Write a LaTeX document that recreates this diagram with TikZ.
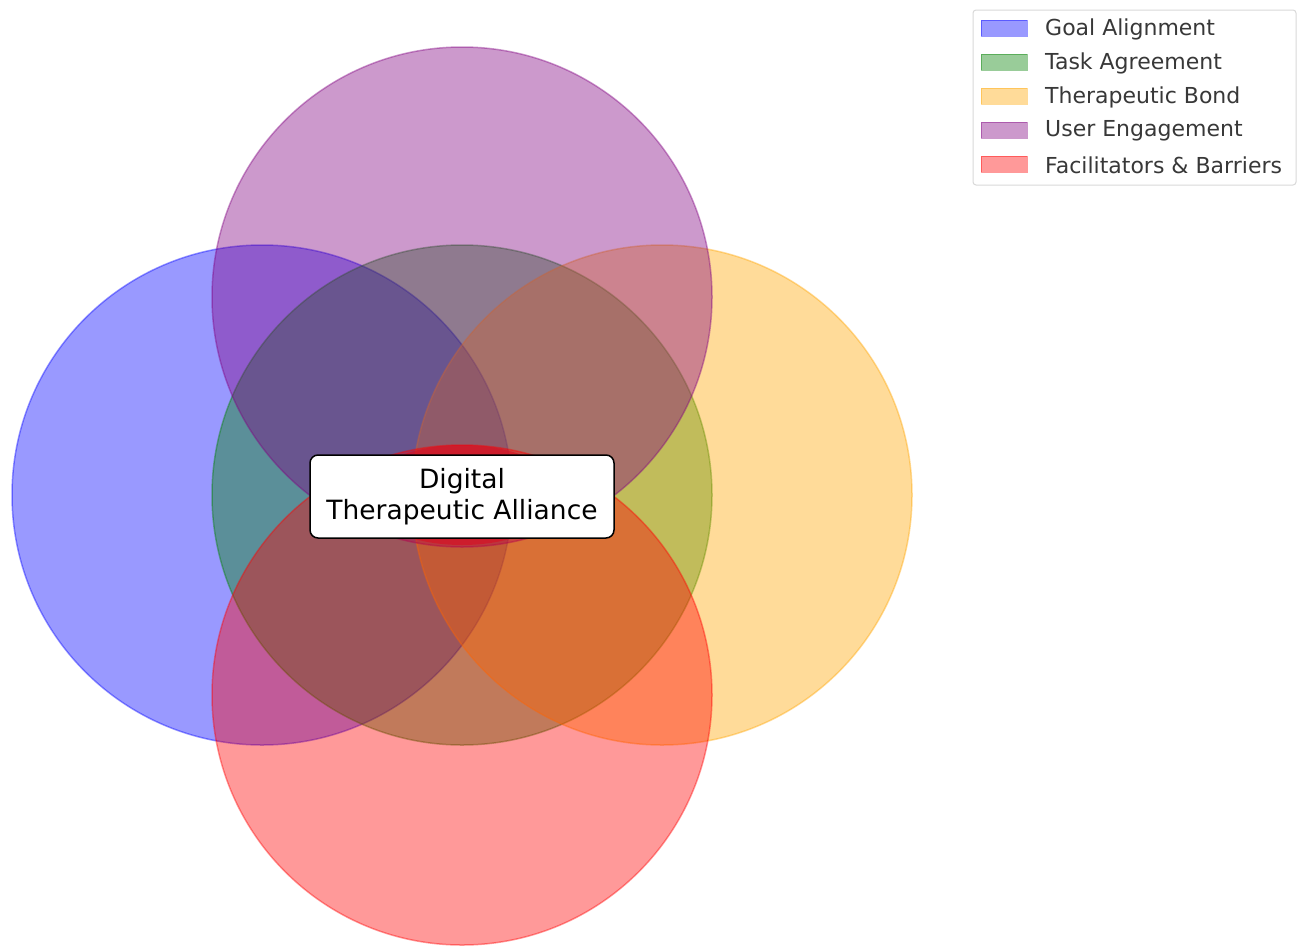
\documentclass[tikz,border=0pt]{standalone}
\usepackage{fontspec}
\setmainfont{DejaVu Sans}
\usetikzlibrary{shapes.geometric}
\definecolor{mblue}{RGB}{0,0,255}
\definecolor{mgreen}{RGB}{0,128,0}
\definecolor{morange}{RGB}{255,165,0}
\definecolor{mpurple}{RGB}{128,0,128}
\definecolor{mred}{RGB}{255,0,0}
\definecolor{mcore}{RGB}{220,10,30}
\begin{document}
\begin{tikzpicture}[x=1pt,y=-1pt,
  venn/.style={circle,minimum size=500pt,inner sep=0pt,line width=1.5pt,fill=#1,draw=#1,opacity=0.4},
  patch/.style={rectangle,minimum width=46pt,minimum height=16pt,inner sep=0pt,line width=1pt,fill=#1,draw=#1,opacity=0.4},
  legtext/.style={anchor=west,inner sep=0pt,font=\fontsize{22}{26}\selectfont,text=black!78}]
\useasboundingbox (0,0) rectangle (1300,945);
\fill[white] (0,0) rectangle (1300,945);
\node[venn=mblue] (goal) at (262,495) {};
\node[venn=mgreen] (task) at (462,495) {};
\node[venn=morange] (bond) at (662,495) {};
\node[venn=mpurple] (user) at (462,297) {};
\node[venn=mred] (fac) at (462,695) {};
\node[ellipse,minimum width=200pt,minimum height=100pt,inner sep=0pt,fill=mcore,opacity=0.55] (core) at (462,495) {};
\node[draw=black,line width=1.5pt,fill=white,rounded corners=8pt,minimum width=304pt,minimum height=83pt,align=center,inner sep=0pt,font=\fontsize{26.5}{31}\selectfont] (label) at (462,496.5) {Digital\\Therapeutic Alliance};
% legend
\node[draw=black!15,line width=1pt,fill=white,rounded corners=3pt,minimum width=323pt,minimum height=175pt,inner sep=0pt] (legend) at (1134.5,97.5) {};
\node[patch=mblue] (p1) at (1004,28) {};
\node[patch=mgreen] (p2) at (1004,62) {};
\node[patch=morange] (p3) at (1004,96) {};
\node[patch=mpurple] (p4) at (1004,130) {};
\node[patch=mred] (p5) at (1004,164) {};
\node[legtext] (t1) at (1045,29) {Goal Alignment};
\node[legtext] (t2) at (1045,63) {Task Agreement};
\node[legtext] (t3) at (1045,97) {Therapeutic Bond};
\node[legtext] (t4) at (1045,131) {User Engagement};
\node[legtext] (t5) at (1045,165) {Facilitators \& Barriers};
\end{tikzpicture}
\end{document}
